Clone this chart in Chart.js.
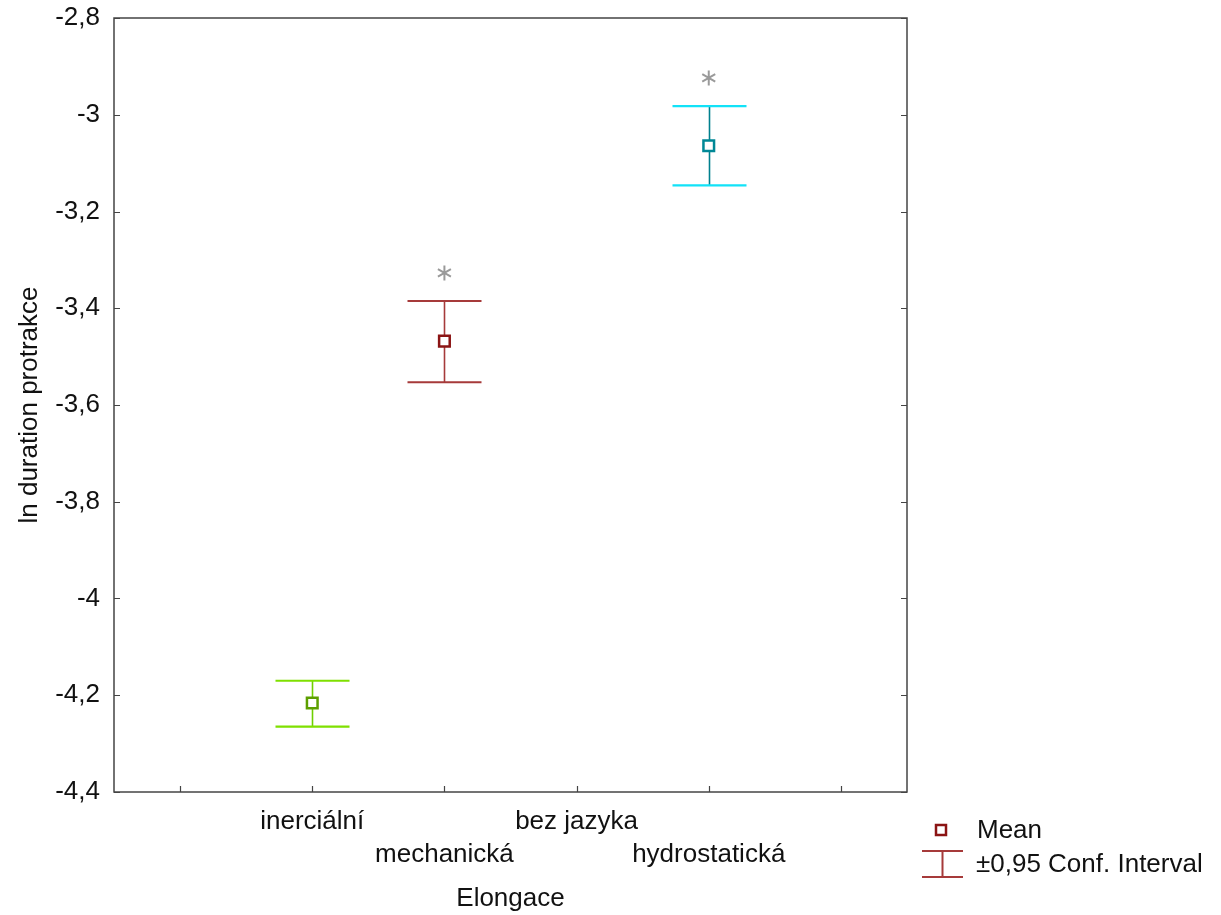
<!DOCTYPE html>
<html><head><meta charset="utf-8">
<script src="https://cdn.jsdelivr.net/npm/chart.js@4/dist/chart.umd.min.js"></script>
<style>html,body{margin:0;padding:0;background:#fff}#wrap{width:1221px;height:915px;position:relative}canvas{display:block}</style>
</head><body><div id="wrap"><canvas id="c" width="1221" height="915" style="width:1221px;height:915px"></canvas></div>
<script>
// ---- data ----
const categories = ['inerciální', 'mechanická', 'bez jazyka', 'hydrostatická'];
const catPositions = [1.5, 2.5, 3.5, 4.5];
const means = [-4.216, -3.468, null, -3.064];
const ciUpper = [-4.170, -3.385, null, -2.982];
const ciLower = [-4.265, -3.553, null, -3.146];
const starValues = [null, -3.327, null, -2.924];
const yTickValues = [-4.4, -4.2, -4.0, -3.8, -3.6, -3.4, -3.2, -3.0, -2.8];
const xTickValues = [0.5, 1.5, 2.5, 3.5, 4.5, 5.5];
const legendLabels = ['Mean', '±0,95 Conf. Interval'];
const xTitle = 'Elongace';
const yTitle = 'ln duration protrakce';

// ---- styles ----
const capColors = ['#7fe000', '#a63a3a', null, '#12e2f8'];
const stemColors = ['#6fcf00', '#a63a3a', null, '#00808e'];
const markerColors = ['#5c9f00', '#8b1414', null, '#008896'];
const FONT = "'Liberation Sans', Arial, sans-serif";
const FS = 26;

const pts = [];
catPositions.forEach((x, i) => { if (means[i] !== null) pts.push({x: x, y: means[i], i: i}); });

const fmt = v => String(Number(v.toFixed(1))).replace('.', ',');

const decor = {
  id: 'decor',
  beforeDatasetsDraw(chart) {
    const {ctx} = chart;
    const xs = chart.scales.x, ys = chart.scales.y;
    ctx.save();
    catPositions.forEach((cx, i) => {
      if (means[i] === null) return;
      const px = Math.round(xs.getPixelForValue(cx)) + 0.5;
      const yt = ys.getPixelForValue(ciUpper[i]);
      const yb = ys.getPixelForValue(ciLower[i]);
      ctx.strokeStyle = stemColors[i];
      ctx.lineWidth = 1.6;
      ctx.beginPath(); ctx.moveTo(px, yt); ctx.lineTo(px, yb); ctx.stroke();
      ctx.strokeStyle = capColors[i];
      ctx.lineWidth = 2.2;
      ctx.beginPath();
      ctx.moveTo(px - 37, yt); ctx.lineTo(px + 37, yt);
      ctx.moveTo(px - 37, yb); ctx.lineTo(px + 37, yb);
      ctx.stroke();
    });
    ctx.strokeStyle = '#9a9a9a';
    ctx.lineWidth = 2;
    catPositions.forEach((cx, i) => {
      if (starValues[i] === null) return;
      const px = xs.getPixelForValue(cx), py = ys.getPixelForValue(starValues[i]);
      const r = 7.5;
      ctx.beginPath();
      [90, 30, 150].forEach(a => {
        const rad = a * Math.PI / 180;
        ctx.moveTo(px - r * Math.cos(rad), py - r * Math.sin(rad));
        ctx.lineTo(px + r * Math.cos(rad), py + r * Math.sin(rad));
      });
      ctx.stroke();
    });
    ctx.restore();
  },
  afterDraw(chart) {
    const {ctx, chartArea: a} = chart;
    const xs = chart.scales.x, ys = chart.scales.y;
    ctx.save();
    ctx.strokeStyle = '#444';
    ctx.lineWidth = 1.5;
    ctx.strokeRect(a.left, a.top, a.right - a.left, a.bottom - a.top);
    ctx.lineWidth = 1.2;
    ctx.beginPath();
    yTickValues.forEach(v => {
      const py = Math.round(ys.getPixelForValue(v)) + 0.5;
      ctx.moveTo(a.left, py); ctx.lineTo(a.left + 6, py);
      ctx.moveTo(a.right, py); ctx.lineTo(a.right - 6, py);
    });
    xTickValues.forEach(v => {
      const px = Math.round(xs.getPixelForValue(v)) + 0.5;
      ctx.moveTo(px, a.bottom); ctx.lineTo(px, a.bottom - 6);
    });
    ctx.stroke();
    // legend
    ctx.strokeStyle = '#8b1414';
    ctx.lineWidth = 2.5;
    ctx.strokeRect(936, 825, 10, 10);
    ctx.strokeStyle = '#a63a3a';
    ctx.lineWidth = 2;
    ctx.beginPath();
    ctx.moveTo(922, 851); ctx.lineTo(963, 851);
    ctx.moveTo(922, 877); ctx.lineTo(963, 877);
    ctx.moveTo(942.5, 851); ctx.lineTo(942.5, 877);
    ctx.stroke();
    ctx.fillStyle = '#111';
    ctx.font = FS + 'px ' + FONT;
    ctx.textBaseline = 'middle';
    ctx.textAlign = 'left';
    ctx.fillText(legendLabels[0], 977, 831);
    ctx.fillText(legendLabels[1], 976, 865);
    ctx.restore();
  }
};

new Chart(document.getElementById('c'), {
  type: 'scatter',
  data: {
    datasets: [{
      label: 'Mean',
      data: pts,
      pointStyle: 'rect',
      pointRadius: 7.5,
      pointHoverRadius: 7.5,
      pointBorderWidth: 2.5,
      pointBackgroundColor: '#ffffff',
      pointBorderColor: pts.map(p => markerColors[p.i]),
      showLine: false
    }]
  },
  options: {
    responsive: false,
    maintainAspectRatio: false,
    animation: false,
    devicePixelRatio: 1,
    layout: {padding: {top: 18, right: 314, left: 0, bottom: 0}},
    plugins: {legend: {display: false}, tooltip: {enabled: false}},
    scales: {
      x: {
        type: 'linear', min: 0, max: 6,
        afterBuildTicks: s => { s.ticks = xTickValues.map(v => ({value: v})); },
        afterFit: s => { s.height = 123; s.paddingLeft = 0; s.paddingRight = 0; },
        grid: {display: false, drawTicks: false},
        border: {display: false},
        ticks: {
          autoSkip: false, maxRotation: 0, minRotation: 0, padding: 13,
          color: '#111',
          font: {family: FONT, size: FS, lineHeight: 1.27},
          callback: v => {
            const i = catPositions.indexOf(v);
            if (i < 0) return '';
            return i % 2 === 0 ? [categories[i], ''] : ['', categories[i]];
          }
        },
        title: {display: true, text: xTitle, color: '#111', font: {family: FONT, size: FS}, padding: {top: 0, bottom: 1}}
      },
      y: {
        type: 'linear', min: -4.4, max: -2.8,
        afterBuildTicks: s => { s.ticks = yTickValues.map(v => ({value: v})); },
        afterFit: s => { s.width = 114; s.paddingTop = 0; s.paddingBottom = 0; },
        grid: {display: false, drawTicks: false},
        border: {display: false},
        ticks: {padding: 14, color: '#111', font: {family: FONT, size: FS}, callback: v => fmt(v)},
        title: {display: true, text: yTitle, color: '#111', font: {family: FONT, size: FS}, padding: {top: 14, bottom: 0}}
      }
    }
  },
  plugins: [decor]
});
</script>
</body></html>
